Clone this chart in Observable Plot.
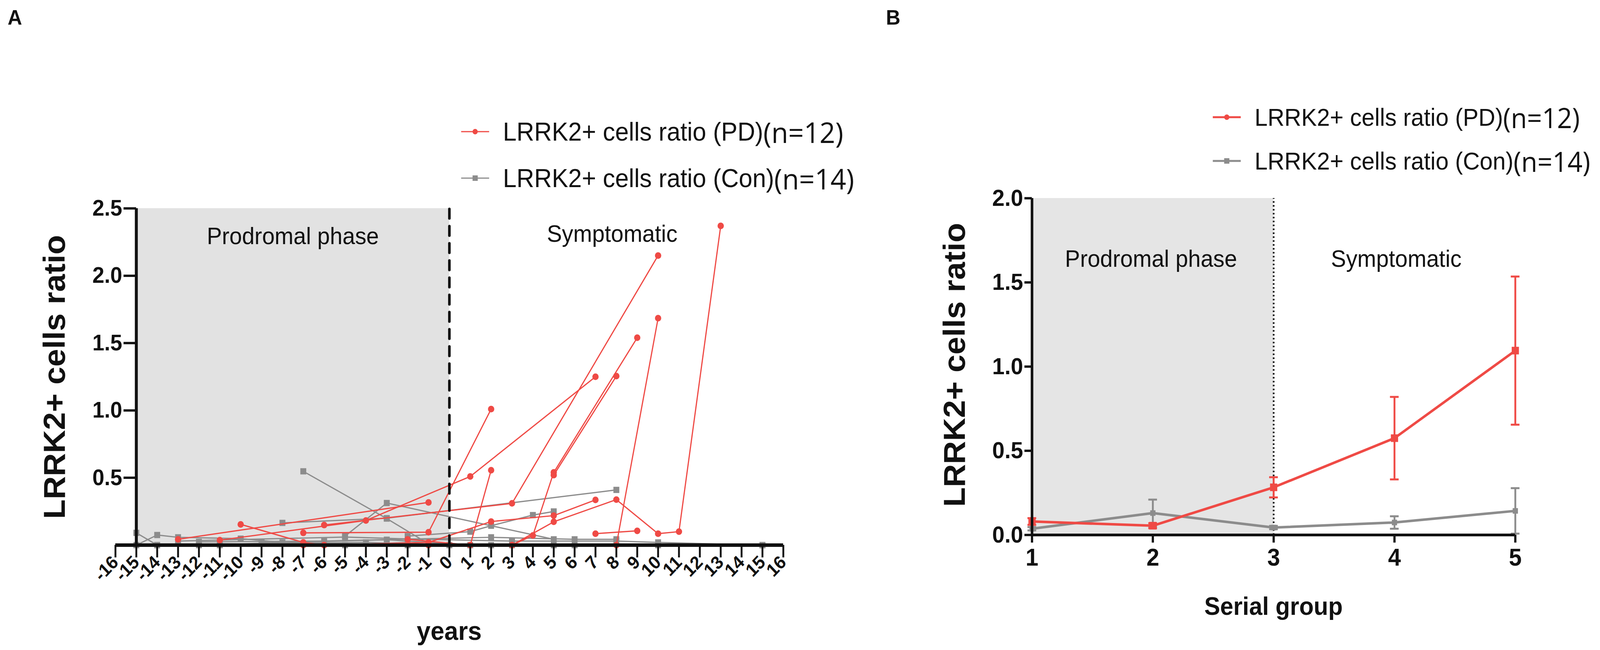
<!DOCTYPE html>
<html><head><meta charset="utf-8">
<script src="https://cdn.jsdelivr.net/npm/d3@7"></script>
<script src="https://cdn.jsdelivr.net/npm/@observablehq/plot@0.6"></script>
<style>
html,body{margin:0;padding:0;background:#fff;overflow:hidden}
#root{position:relative;width:4317px;height:1664px;background:#fff;font-family:"Liberation Sans",Arial,sans-serif;overflow:hidden;color:#111;transform-origin:0 0}
.abs{position:absolute;white-space:nowrap;line-height:1}
.c{transform:translate(-50%,-50%)}
.rot{transform:translate(-50%,-50%) rotate(-90deg)}
.panel{position:absolute;top:0;max-width:none !important}
.leg{position:absolute;display:flex;align-items:center;height:90px;white-space:nowrap;color:#111}
.leg svg{margin-right:37px;flex:none}
.n{font-family:"Open Sans",sans-serif}
</style></head><body><div id="root"></div>
<script>
// ---------- Panel A data: serial samples per subject ----------
const pdSubject = [1,1, 2,2,2,2, 3,3,3, 4,4,4, 5,5,5, 6,6,6,6,6, 7,7,7,7, 8,8,8,8,8,8,8, 9,9,9, 10,10, 11,11, 12,12,12];
const pdYear    = [-13,-1, -11,-4,1,7, -10,-7,-6, -6,3,10, -7,-1,2, -6,-1,2,5,7, 3,4,5,9, -7,3,5,8,10,11,13, -1,8,10, 7,9, 5,8, -2,1,2];
const pdRatio   = [0.043,0.317, 0.037,0.183,0.51,1.25, 0.154,0.02,0.0, 0.149,0.31,2.15, 0.091,0.096,1.01, 0.0,0.02,0.175,0.219,0.336, 0.0,0.072,0.54,1.54, 0.0,0.0,0.173,0.338,0.085,0.10,2.37, 0.0,0.0,1.685, 0.085,0.106, 0.52,1.255, 0.043,0.0,0.556];

const conSubject = [1,1,1, 2,2,2, 3,3,3, 4,4,4,4,4, 5,5,5,5,5, 6,6,6, 7,7,7,7,7, 8,8,8, 9,9,9,9, 10,10,10,10, 11,11,11,11, 12,12,12, 13,13,13,13, 14,14,14];
const conYear    = [-7,-3,-1, -8,-3,8, -5,-3,5, -2,1,2,4,5, -12,-6,2,6,8, -15,-14,-11, -15,-14,-13,-10,-8, -9,-5,-2, 3,8,10,15, -13,-5,-2,3, -12,-3,1,5, -11,-2,3, -14,-4,0,2, 6,10,15];
const conRatio   = [0.548,0.197,0.01, 0.165,0.2,0.41, 0.067,0.3125,0.043, 0.067,0.10,0.144,0.223,0.25, 0.024,0.03,0.058,0.043,0.043, 0.091,0.0,0.0, 0.0,0.075,0.058,0.048,0.02, 0.02,0.0,0.02, 0.03,0.03,0.02,0.0, 0.03,0.06,0.046,0.03, 0.0,0.04,0.0,0.0, 0.01,0.0,0.0, 0.0,0.02,0.0,0.0, 0.0,0.0,0.0];

const yearTicks = d3.range(-16, 17);
const ratioTicksA = [0.5, 1.0, 1.5, 2.0, 2.5];
const phasesA = [{label: "Prodromal phase", x: -7.5, y: 2.29}, {label: "Symptomatic", x: 7.8, y: 2.31}];
const prodromalA = [{start: -15, end: 0, bottom: 0, top: 2.5}];
const onsetA = [{x: 0, bottom: 0, top: 2.5}];
const yAxisLineA = [{x: -15, bottom: 0, top: 2.5}];

// ---------- Panel B data: mean ± SEM per serial group ----------
const serialGroup = [1, 2, 3, 4, 5];
const pdMean = [0.08, 0.055, 0.283, 0.575, 1.095];
const pdSem  = [0.02, 0.015, 0.06, 0.245, 0.44];
const conMean = [0.037, 0.13, 0.044, 0.074, 0.143];
const conSem  = [0.01, 0.08, 0.01, 0.037, 0.135];
const ratioTicksB = [0, 0.5, 1.0, 1.5, 2.0];
const phasesB = [{label: "Prodromal phase", x: 1.985, y: 1.638}, {label: "Symptomatic", x: 4.015, y: 1.638}];
const prodromalB = [{start: 1, end: 3, bottom: 0, top: 2}];
const onsetB = [{x: 3, bottom: 0, top: 2}];
const yAxisLineB = [{x: 1, bottom: 0, top: 2}];

const RED = "#ef4a45", GRAY = "#8c8c8c", INK = "#111";
const FONT = "Liberation Sans, Arial, sans-serif";

const pdA = pdYear.map((x, i) => ({subject: pdSubject[i], year: x, ratio: pdRatio[i]}));
const conA = conYear.map((x, i) => ({subject: conSubject[i], year: x, ratio: conRatio[i]}));
const pdB = serialGroup.map((g, i) => ({g, mean: pdMean[i], sem: pdSem[i]}));
const conB = serialGroup.map((g, i) => ({g, mean: conMean[i], sem: conSem[i]}));

const root = document.getElementById("root");
// the browser viewport may be narrower than 4317px: fit the composition horizontally
const fitX = Math.min(1, (window.innerWidth || 4317) / 4317);
if (fitX < 1) root.style.transform = "scaleX(" + fitX + ")";

// ---------- Panel A ----------
const wA = 2300, mLA = 311, mRA = 187;
const pxPerYear = (wA - mLA - mRA) / 32;
const plotA = Plot.plot({
  width: wA, height: 1664,
  marginLeft: mLA, marginRight: mRA, marginTop: 533, marginBottom: 269,
  x: {domain: [-16, 16]},
  y: {domain: [0, 2.5]},
  style: {fontFamily: FONT, background: "transparent", color: INK, overflow: "visible"},
  marks: [
    Plot.rect(prodromalA, {x1: "start", x2: "end", y1: "bottom", y2: "top", fill: "#e2e2e2"}),
    Plot.text(phasesA, {x: "x", y: "y", text: "label", fontSize: 61, fill: INK}),
    Plot.line(conA, {x: "year", y: "ratio", z: "subject", stroke: GRAY, strokeWidth: 3.2}),
    Plot.dot(conA, {x: "year", y: "ratio", symbol: "square", r: 9, fill: GRAY}),
    Plot.line(pdA, {x: "year", y: "ratio", z: "subject", stroke: RED, strokeWidth: 3.2}),
    Plot.dot(pdA, {x: "year", y: "ratio", r: 8.5, fill: RED}),
    Plot.ruleX(onsetA, {x: "x", y1: "bottom", y2: "top", stroke: INK, strokeWidth: 7, strokeDasharray: "24 20", strokeLinecap: "round"}),
    Plot.ruleX(yAxisLineA, {x: "x", y1: "bottom", y2: "top", stroke: INK, strokeWidth: 8}),
    Plot.ruleY([0], {stroke: INK, strokeWidth: 9}),
    Plot.axisX({ticks: yearTicks, tickFormat: d => String(d), tickSize: 32, tickPadding: 4, tickRotate: -45,
      fontSize: 47, fontWeight: "bold", strokeWidth: 5, stroke: INK, fill: INK, label: null}),
    Plot.axisY({ticks: ratioTicksA, tickFormat: d3.format(".1f"), tickSize: 34, tickPadding: 4,
      dx: pxPerYear, fontSize: 58, fontWeight: "bold", strokeWidth: 6, stroke: INK, fill: INK, label: null})
  ]
});
plotA.classList.add("panel"); plotA.style.left = "0px";
root.appendChild(plotA);

// ---------- Panel B ----------
const capHalf = 0.036;
const plotB = Plot.plot({
  width: 1917, height: 1664,
  marginLeft: 384, marginRight: 229, marginTop: 507, marginBottom: 295,
  x: {domain: [1, 5]},
  y: {domain: [0, 2]},
  style: {fontFamily: FONT, background: "transparent", color: INK, overflow: "visible"},
  marks: [
    Plot.rect(prodromalB, {x1: "start", x2: "end", y1: "bottom", y2: "top", fill: "#e5e5e5"}),
    Plot.text(phasesB, {x: "x", y: "y", text: "label", fontSize: 61, fill: INK}),
    Plot.ruleX(onsetB, {x: "x", y1: "bottom", y2: "top", stroke: INK, strokeWidth: 4.5, strokeDasharray: "4 6"}),
    Plot.ruleX(conB, {x: "g", y1: d => Math.max(0, d.mean - d.sem), y2: d => d.mean + d.sem, stroke: GRAY, strokeWidth: 5}),
    Plot.ruleY(conB, {y: d => d.mean + d.sem, x1: d => d.g - capHalf, x2: d => d.g + capHalf, stroke: GRAY, strokeWidth: 5}),
    Plot.ruleY(conB, {y: d => Math.max(0, d.mean - d.sem), x1: d => d.g - capHalf, x2: d => d.g + capHalf, stroke: GRAY, strokeWidth: 5}),
    Plot.line(conB, {x: "g", y: "mean", stroke: GRAY, strokeWidth: 6.5}),
    Plot.dot(conB, {x: "g", y: "mean", symbol: "square", r: 8, fill: GRAY}),
    Plot.ruleX(pdB, {x: "g", y1: d => d.mean - d.sem, y2: d => d.mean + d.sem, stroke: RED, strokeWidth: 5}),
    Plot.ruleY(pdB, {y: d => d.mean + d.sem, x1: d => d.g - capHalf, x2: d => d.g + capHalf, stroke: RED, strokeWidth: 5}),
    Plot.ruleY(pdB, {y: d => d.mean - d.sem, x1: d => d.g - capHalf, x2: d => d.g + capHalf, stroke: RED, strokeWidth: 5}),
    Plot.line(pdB, {x: "g", y: "mean", stroke: RED, strokeWidth: 6.5}),
    Plot.dot(pdB, {x: "g", y: "mean", symbol: "square", r: 11, fill: RED}),
    Plot.ruleX(yAxisLineB, {x: "x", y1: "bottom", y2: "top", stroke: INK, strokeWidth: 7}),
    Plot.ruleY([0], {stroke: INK, strokeWidth: 7}),
    Plot.axisX({ticks: serialGroup, tickFormat: d => String(d), tickSize: 20, tickPadding: 14,
      fontSize: 62, fontWeight: "bold", strokeWidth: 6, stroke: INK, fill: INK, label: null}),
    Plot.axisY({ticks: ratioTicksB, tickFormat: d3.format(".1f"), tickSize: 20, tickPadding: 4,
      fontSize: 60, fontWeight: "bold", strokeWidth: 6, stroke: INK, fill: INK, label: null})
  ]
});
plotB.classList.add("panel"); plotB.style.left = "2400px";
root.appendChild(plotB);

// ---------- Titles, panel letters, legends ----------
function addText(txt, x, y, cls, style) {
  const d = document.createElement("div");
  d.className = "abs " + cls; d.textContent = txt;
  d.style.left = x + "px"; d.style.top = y + "px";
  Object.assign(d.style, style);
  root.appendChild(d);
  return d;
}
addText("A", 40, 44, "c", {fontSize: "54px", fontWeight: "bold"});
addText("B", 2410, 44, "c", {fontSize: "54px", fontWeight: "bold"});
addText("years", 1212, 1614, "c", {fontSize: "67px", fontWeight: "bold"});
addText("LRRK2+ cells ratio", 147, 965, "rot", {fontSize: "82px", fontWeight: "bold"});
addText("Serial group", 3436, 1552, "c", {fontSize: "64px", fontWeight: "bold"});
addText("LRRK2+ cells ratio", 2575, 934, "rot", {fontSize: "82px", fontWeight: "bold"});

function legendItem(x, y, color, symbol, label, n, sep, size, stroke) {
  const div = document.createElement("div");
  div.className = "leg";
  div.style.left = x + "px"; div.style.top = (y - 45) + "px";
  div.style.fontSize = size + "px";
  const ns = "http://www.w3.org/2000/svg";
  const s = document.createElementNS(ns, "svg");
  s.setAttribute("width", 76); s.setAttribute("height", 30);
  const ln = document.createElementNS(ns, "line");
  ln.setAttribute("x1", 0); ln.setAttribute("x2", 76); ln.setAttribute("y1", 15); ln.setAttribute("y2", 15);
  ln.setAttribute("stroke", color); ln.setAttribute("stroke-width", stroke);
  s.appendChild(ln);
  if (symbol === "circle") {
    const c = document.createElementNS(ns, "circle");
    c.setAttribute("cx", 38); c.setAttribute("cy", 15); c.setAttribute("r", 7); c.setAttribute("fill", color);
    s.appendChild(c);
  } else {
    const r = document.createElementNS(ns, "rect");
    r.setAttribute("x", 31); r.setAttribute("y", 8); r.setAttribute("width", 14); r.setAttribute("height", 14); r.setAttribute("fill", color);
    s.appendChild(r);
  }
  div.appendChild(s);
  const t = document.createElement("span"); t.textContent = label + sep;
  const nn = document.createElement("span"); nn.className = "n"; nn.textContent = n;
  nn.style.fontSize = Math.round(size * 1.12) + "px";
  div.appendChild(t); div.appendChild(nn);
  root.appendChild(div);
  return div;
}
legendItem(1244, 337, RED, "circle", "LRRK2+ cells ratio (PD)", "(n=12)", "", 66, 3);
legendItem(1244, 456, GRAY, "square", "LRRK2+ cells ratio (Con)", "(n=14)", "", 66, 3);
legendItem(3272, 300, RED, "circle", "LRRK2+ cells ratio (PD)", "(n=12)", " ", 63, 5);
legendItem(3272, 412, GRAY, "square", "LRRK2+ cells ratio (Con)", "(n=14)", " ", 63, 5);
</script></body></html>
